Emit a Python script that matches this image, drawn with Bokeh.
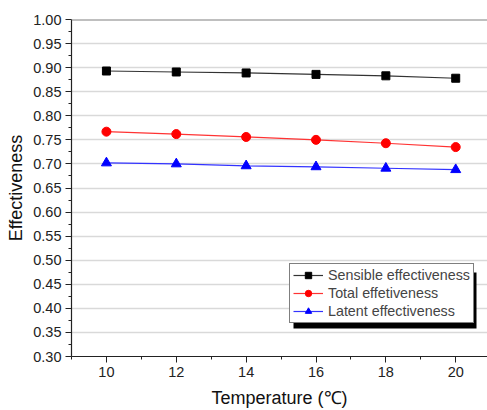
from bokeh.plotting import figure
from bokeh.models import FixedTicker, PrintfTickFormatter, Legend, LegendItem, BoxAnnotation, Span
from bokeh.embed import file_html
from bokeh.resources import INLINE

temperature = [10, 12, 14, 16, 18, 20]
sensible = [0.893, 0.891, 0.889, 0.886, 0.883, 0.878]
total = [0.767, 0.762, 0.756, 0.750, 0.743, 0.735]
latent = [0.702, 0.700, 0.696, 0.694, 0.691, 0.688]

x_ticks = [10, 12, 14, 16, 18, 20]
x_minor = [9, 11, 13, 15, 17, 19, 21]
y_ticks = [round(0.30 + 0.05 * i, 2) for i in range(15)]
y_minor = [round(0.325 + 0.05 * i, 3) for i in range(14)]

FONT = "Liberation Sans"
X0, X1 = 9.0, 20.91
Y0, Y1 = 0.30, 1.00
FL, FT, FW, FH = 71, 19, 416, 337

p = figure(width=487, height=410, x_range=(X0, X1), y_range=(Y0, Y1),
           output_backend="svg", toolbar_location=None,
           min_border_left=FL, min_border_right=0, min_border_top=FT, min_border_bottom=410 - FT - FH)
p.outline_line_color = None
p.background_fill_color = "white"

# axes
for ax in (p.xaxis[0], p.yaxis[0]):
    ax.axis_line_color = "#222222"
    ax.axis_line_width = 1.2
    ax.major_tick_line_color = "#222222"
    ax.minor_tick_line_color = "#222222"
    ax.major_tick_out = 6
    ax.major_tick_in = 0
    ax.minor_tick_out = 3
    ax.minor_tick_in = 0
    ax.major_label_text_font = FONT
    ax.major_label_text_font_size = "14.5px"
    ax.major_label_text_color = "#222222"
    ax.axis_label_text_font = FONT
    ax.axis_label_text_font_size = "18px"
    ax.axis_label_text_font_style = "normal"
    ax.axis_label_text_color = "#111111"

p.xaxis.ticker = FixedTicker(ticks=x_ticks, minor_ticks=x_minor)
p.yaxis.ticker = FixedTicker(ticks=y_ticks, minor_ticks=y_minor)
p.yaxis.formatter = PrintfTickFormatter(format="%.2f")
p.xaxis.axis_label = "Temperature (℃)"
p.yaxis.axis_label = "Effectiveness"
p.xaxis.major_label_standoff = 4
p.xaxis.axis_label_standoff = 8
p.yaxis.major_label_standoff = 4
p.yaxis.axis_label_standoff = 4

p.xgrid.visible = False
p.ygrid.ticker = FixedTicker(ticks=y_ticks)
p.ygrid.grid_line_color = "#d9d9d9"
p.ygrid.grid_line_width = 1.5

p.add_layout(Span(location=Y1, dimension="width", line_color="#808080", line_width=2))

l1 = p.line(temperature, sensible, line_color="#333333", line_width=1.2)
m1 = p.scatter(temperature, sensible, marker="square", size=8, color="black")
l2 = p.line(temperature, total, line_color="#ff3333", line_width=1.2)
m2 = p.scatter(temperature, total, marker="circle", size=9, color="red")
l3 = p.line(temperature, latent, line_color="#3333ff", line_width=1.2)
m3 = p.scatter(temperature, latent, marker="triangle", size=10, color="blue")

# legend shadow (decoration), positioned in pixels, converted to data units
def px_x(px):
    return X0 + (px - FL) * (X1 - X0) / FW

def px_y(py):
    return Y1 - (py - FT) * (Y1 - Y0) / FH

shadow = BoxAnnotation(left=px_x(293), right=px_x(476), top=px_y(272), bottom=px_y(328),
                       fill_color="black", fill_alpha=1.0, line_color=None)
p.add_layout(shadow)

legend = Legend(items=[LegendItem(label="Sensible effectiveness", renderers=[l1, m1]),
                       LegendItem(label="Total effetiveness", renderers=[l2, m2]),
                       LegendItem(label="Latent effectiveness", renderers=[l3, m3])],
                location=(218, 33), margin=0, padding=3, spacing=2,
                glyph_width=30, glyph_height=16, label_height=16, label_standoff=5,
                label_text_font=FONT, label_text_font_size="14.3px",
                border_line_color="black", border_line_width=1,
                background_fill_color="white", background_fill_alpha=1.0)
p.add_layout(legend, "center")

open("out.html", "w").write(file_html(p, INLINE))
